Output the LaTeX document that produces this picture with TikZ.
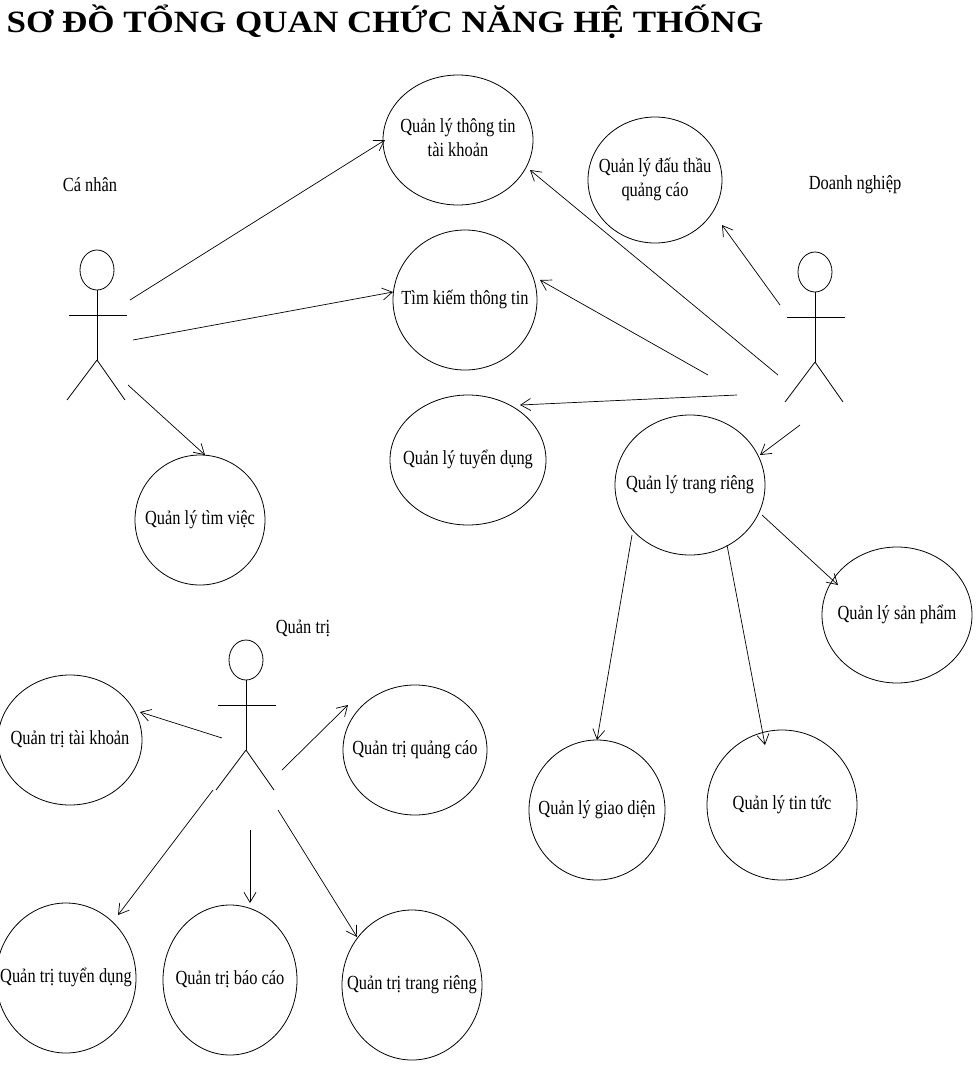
\documentclass[tikz,border=0pt]{standalone}
\usepackage{fontspec}
\setmainfont{Liberation Serif}
\usetikzlibrary{shapes.geometric,arrows.meta}
\begin{document}
\begin{tikzpicture}[x=1pt,y=-1pt,
 uc/.style={draw,ellipse,line width=0.8pt,minimum width=2*#1,align=center,inner sep=0pt},
 t/.style={font=\fontsize{20}{24}\selectfont},
 ar/.style={-{Straight Barb[length=10pt,width=12pt]},line width=0.7pt},
 act/.style={line width=0.8pt}]
\useasboundingbox (0,0) rectangle (976,1080);
\node[anchor=west,font=\bfseries\fontsize{31}{34}\selectfont] (title) at (3,22) {\scalebox{1.13}[1]{SƠ ĐỒ TỔNG QUAN CHỨC NĂNG HỆ THỐNG}};
\newcommand{\ucn}[6]{\node[uc=#4,minimum height=2*#5,t] (#1) at (#2,#3) {\makebox[0pt]{\scalebox{0.82}[1]{\begin{tabular}{@{}c@{}}#6\end{tabular}}}};}
\ucn{e1}{458}{140}{75}{65}{Quản lý thông tin\\tài khoản}
\ucn{e2}{655}{180}{67}{63}{Quản lý đấu thầu\\quảng cáo}
\ucn{e3}{465}{300}{72}{70}{Tìm kiếm thông tin}
\ucn{e4}{468}{460}{78}{65}{Quản lý tuyển dụng}
\ucn{e5}{690}{485}{75}{70}{Quản lý trang riêng}
\ucn{e6}{200}{520}{65}{65}{Quản lý tìm việc}
\ucn{e7}{897}{615}{75}{68}{Quản lý sản phẩm}
\ucn{e8}{70}{740}{72}{65}{Quản trị tài khoản}
\ucn{e9}{415}{750}{72}{65}{Quản trị quảng cáo}
\ucn{e10}{597}{810}{68}{70}{Quản lý giao diện}
\ucn{e11}{782}{805}{75}{75}{Quản lý tin tức}
\ucn{e12}{66}{978}{70}{75}{Quản trị tuyển dụng}
\ucn{e13}{230}{980}{67}{75}{Quản trị báo cáo}
\ucn{e14}{412}{985}{70}{75}{Quản trị trang riêng}
% actors
\newcommand{\actor}[3]{%
 \draw[act] (#1,#2) circle[x radius=17,y radius=20];
 \draw[act] (#1,#2+20) -- (#1,#2+90) coordinate (#3h);
 \draw[act] (#1-28,#2+45) -- (#1+30,#2+45);
 \draw[act] (#3h) -- (#1-30,#2+130);
 \draw[act] (#3h) -- (#1+28,#2+130);}
\actor{97}{270}{a}
\actor{815}{272}{b}
\actor{246}{660}{c}
\node[t,anchor=center] (l1) at (90,185) {\scalebox{0.82}[1]{Cá nhân}};
\node[t,anchor=center] (l2) at (855,185) {\scalebox{0.82}[1]{Doanh nghiệp}};
\node[t,anchor=center] (l3) at (303,628) {\scalebox{0.82}[1]{Quản trị}};
% start points
\coordinate (s1) at (130,300);
\coordinate (s2) at (133,340);
\coordinate (s3) at (128,385);
\coordinate (s4) at (780,305);
\coordinate (s5) at (778,375);
\coordinate (s6) at (708,375);
\coordinate (s7) at (737,395);
\coordinate (s8) at (800,425);
\coordinate (s9) at (762,515);
\coordinate (s10) at (632,535);
\coordinate (s11) at (727,545);
\coordinate (s12) at (222,738);
\coordinate (s13) at (282,770);
\coordinate (s14) at (213,790);
\coordinate (s15) at (250,830);
\coordinate (s16) at (278,810);
\coordinate (t1) at (385,140);
\coordinate (t2) at (393,292);
\coordinate (t3) at (205,455);
\coordinate (t4) at (722,225);
\coordinate (t5) at (530,170);
\coordinate (t6) at (540,280);
\coordinate (t7) at (520,405);
\coordinate (t8) at (760,455);
\coordinate (t9) at (838,585);
\coordinate (t10) at (597,740);
\coordinate (t11) at (765,745);
\coordinate (t12) at (140,712);
\coordinate (t13) at (348,705);
\coordinate (t14) at (118,915);
\coordinate (t15) at (250,903);
\coordinate (t16) at (357,937);
\foreach \i in {1,...,16} \draw[ar] (s\i) -- (t\i);
\end{tikzpicture}
\end{document}
